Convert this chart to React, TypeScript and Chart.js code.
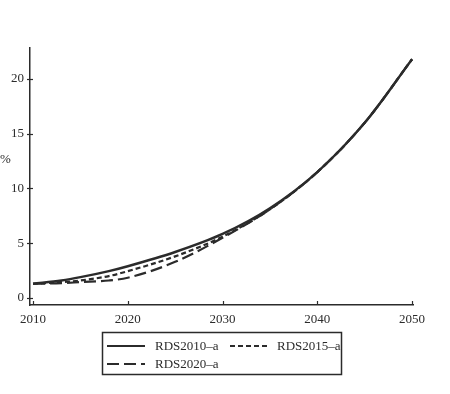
import { useEffect, useRef } from "react";
import { Chart, registerables } from "chart.js";
Chart.register(...registerables);

const years = [2010, 2013, 2015, 2018, 2020, 2025, 2030, 2035, 2040, 2045, 2050];
const rds2010 = [1.3, 1.6, 1.9, 2.45, 2.9, 4.2, 5.85, 8.2, 11.5, 16.0, 21.8];
const rds2015 = [1.3, 1.45, 1.6, 2.0, 2.45, 3.8, 5.6, 8.1, 11.5, 16.0, 21.8];
const rds2020 = [1.3, 1.35, 1.45, 1.6, 1.85, 3.3, 5.5, 8.1, 11.5, 16.0, 21.8];
const seriesNames = ["RDS2010–a", "RDS2015–a", "RDS2020–a"];
const xTicks = [2010, 2020, 2030, 2040, 2050];
const yTicks = [0, 5, 10, 15, 20];
const yUnit = "%";

const INK = "#2b2b2b";
const FONT = "Liberation Serif";

const decor = {
  id: "decor",
  afterDraw(chart: any) {
    const ctx = chart.ctx;
    const xs = chart.scales.x;
    const ys = chart.scales.y;
    const a = chart.chartArea;
    ctx.save();
    ctx.strokeStyle = INK;
    ctx.lineWidth = 1.2;
    xTicks.forEach((v) => {
      const px = Math.round(xs.getPixelForValue(v)) + 0.5;
      ctx.beginPath();
      ctx.moveTo(px, a.bottom);
      ctx.lineTo(px, a.bottom - 4);
      ctx.stroke();
    });
    yTicks.forEach((v) => {
      const py = Math.round(ys.getPixelForValue(v)) + 0.5;
      ctx.beginPath();
      ctx.moveTo(a.left - 3, py);
      ctx.lineTo(a.left + 3, py);
      ctx.stroke();
    });
    // unit label
    ctx.fillStyle = INK;
    ctx.font = `13px "${FONT}"`;
    ctx.textAlign = "left";
    ctx.textBaseline = "middle";
    ctx.fillText(yUnit, 0, 160);

    // legend box
    ctx.lineWidth = 1.5;
    ctx.strokeRect(102.5, 332.5, 239, 42);
    const slots = [
      { lx: 107, y: 346, tx: 155 },
      { lx: 230, y: 346, tx: 277 },
      { lx: 107, y: 364, tx: 155 },
    ];
    chart.data.datasets.forEach((ds: any, i: number) => {
      const s = slots[i];
      ctx.save();
      ctx.strokeStyle = ds.borderColor;
      ctx.lineWidth = 2;
      ctx.setLineDash(ds.borderDash || []);
      ctx.beginPath();
      ctx.moveTo(s.lx, s.y);
      ctx.lineTo(s.lx + 38, s.y);
      ctx.stroke();
      ctx.restore();
      ctx.fillStyle = INK;
      ctx.fillText(ds.label, s.tx, s.y + 1);
    });
    ctx.restore();
  },
};

export default function App() {
  const ref = useRef<HTMLCanvasElement | null>(null);
  useEffect(() => {
    document.body.style.margin = "0";
    const mk = (d: number[]) => years.map((x, i) => ({ x, y: d[i] }));
    const chart = new Chart(ref.current!, {
      type: "line",
      data: {
        datasets: [
          { label: seriesNames[0], data: mk(rds2010), borderColor: INK, borderWidth: 2.4, pointRadius: 0, cubicInterpolationMode: "monotone" },
          { label: seriesNames[1], data: mk(rds2015), borderColor: INK, borderWidth: 2.2, borderDash: [5, 3], pointRadius: 0, cubicInterpolationMode: "monotone" },
          { label: seriesNames[2], data: mk(rds2020), borderColor: INK, borderWidth: 2.2, borderDash: [12, 5], pointRadius: 0, cubicInterpolationMode: "monotone" },
        ],
      },
      options: {
        animation: false,
        responsive: false,
        devicePixelRatio: 1,
        layout: { padding: { top: 48, right: 37, bottom: 64, left: 0 } },
        plugins: { legend: { display: false }, tooltip: { enabled: false } },
        scales: {
          x: {
            type: "linear",
            min: 2009.68,
            max: 2050.1,
            afterBuildTicks: (s: any) => { s.ticks = xTicks.map((v) => ({ value: v })); },
            afterFit: (s: any) => { s.height = 25; },
            grid: { display: true, drawOnChartArea: false, drawTicks: false },
            border: { display: true, color: INK, width: 1.5 },
            ticks: { padding: 7, color: INK, font: { family: FONT, size: 13 }, callback: (v: any) => String(v) },
          },
          y: {
            type: "linear",
            min: -0.64,
            max: 22.83,
            afterBuildTicks: (s: any) => { s.ticks = yTicks.map((v) => ({ value: v })); },
            afterFit: (s: any) => { s.width = 30; },
            grid: { display: true, drawOnChartArea: false, drawTicks: false },
            border: { display: true, color: INK, width: 1.5 },
            ticks: { padding: 6, color: INK, font: { family: FONT, size: 13 } },
          },
        },
      },
      plugins: [decor],
    } as any);
    return () => chart.destroy();
  }, []);
  return (
    <div style={{ width: 450, height: 394, background: "#fff" }}>
      <canvas ref={ref} width={450} height={394} />
    </div>
  );
}
